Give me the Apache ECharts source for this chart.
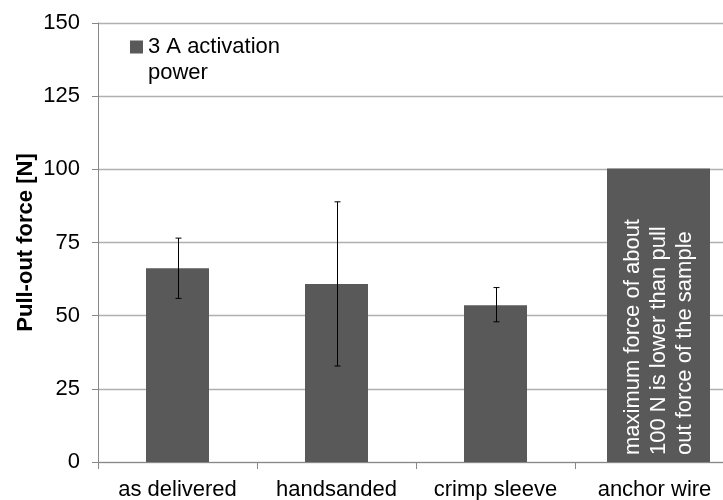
<!DOCTYPE html>
<html><head><meta charset="utf-8">
<script src="https://cdn.jsdelivr.net/npm/echarts@6/dist/echarts.min.js"></script>
<style>html,body{margin:0;padding:0;background:#fff}#c{width:723px;height:500px}</style>
</head><body><div id="c"></div>
<script>
const categories = ['as delivered', 'handsanded', 'crimp sleeve', 'anchor wire'];
const seriesName = '3 A activation power';
const meanForce = [66.2, 60.8, 53.6, null];
const errLow = [55.9, 32.8, 47.9, null];
const errHigh = [76.5, 88.9, 59.6, null];
const anchorForce = [null, null, null, 100.3];
const anchorNote = 'maximum force of about\n100 N is lower than pull\nout force of the sample';
const yTicks = [0, 25, 50, 75, 100, 125, 150];

const chart = echarts.init(document.getElementById('c'));
const errData = categories.map((c, i) => [i, errLow[i], errHigh[i]]).filter(d => d[1] != null);
const font = 'Liberation Sans, Arial, sans-serif';
const fs = 22;
chart.setOption({
  animation: false,
  textStyle: { fontFamily: font },
  grid: [
    { left: 98, top: 23, bottom: 38, width: 636, outerBoundsMode: 'none', containLabel: false },
    { left: 102, top: 23, bottom: 38, width: 636, outerBoundsMode: 'none', containLabel: false }
  ],
  legend: {
    data: [seriesName], left: 130, top: 8, padding: 0, icon: 'rect', itemWidth: 13, itemHeight: 13,
    formatter: () => '\n3 A activation\npower',
    textStyle: { fontSize: fs, color: '#000', lineHeight: 26, fontFamily: font }
  },
  xAxis: [{
    type: 'category', data: categories, gridIndex: 0,
    axisLine: { lineStyle: { color: '#888' } },
    axisTick: { show: true, length: 7, lineStyle: { color: '#888' } },
    axisLabel: { fontSize: fs, color: '#000', margin: 17, fontFamily: font, interval: 0 }
  }, {
    type: 'category', data: categories, gridIndex: 1, show: false
  }],
  yAxis: [{
    type: 'value', min: yTicks[0], max: yTicks[yTicks.length - 1], interval: 25, gridIndex: 0,
    name: 'Pull-out force [N]', nameLocation: 'middle', nameGap: 61, nameMoveOverlap: false,
    nameTextStyle: { fontSize: fs, fontWeight: 'bold', color: '#000', fontFamily: font },
    axisLine: { show: true, lineStyle: { color: '#888' } },
    axisTick: { show: true, length: 6, lineStyle: { color: '#888' } },
    axisLabel: { fontSize: fs, color: '#000', margin: 18, fontFamily: font },
    splitLine: { lineStyle: { color: '#b0b0b0', width: 1.3 } }
  }, {
    type: 'value', min: yTicks[0], max: yTicks[yTicks.length - 1], gridIndex: 1, show: false
  }],
  series: [{
    name: seriesName, type: 'bar', data: meanForce, barWidth: 63,
    itemStyle: { color: '#595959' }
  }, {
    name: 'anchor', type: 'bar', xAxisIndex: 1, yAxisIndex: 1, data: anchorForce, barWidth: 103,
    itemStyle: { color: '#595959' },
    label: {
      show: true, position: 'insideBottom', rotate: 90, align: 'left', verticalAlign: 'middle',
      distance: 7, formatter: anchorNote,
      color: '#fff', fontSize: fs, lineHeight: 26, fontFamily: font
    }
  }, {
    name: 'err', type: 'custom', data: errData, z: 10,
    renderItem: (params, api) => {
      const x = api.value(0);
      const lo = api.coord([x, api.value(1)]);
      const hi = api.coord([x, api.value(2)]);
      const cx = Math.round(lo[0]) + 0.5;
      const s = { stroke: '#000', lineWidth: 1 };
      return { type: 'group', children: [
        { type: 'line', shape: { x1: cx, y1: lo[1], x2: cx, y2: hi[1] }, style: s },
        { type: 'line', shape: { x1: cx - 3, y1: lo[1], x2: cx + 3, y2: lo[1] }, style: s },
        { type: 'line', shape: { x1: cx - 3, y1: hi[1], x2: cx + 3, y2: hi[1] }, style: s }
      ]};
    }
  }]
});
</script></body></html>
